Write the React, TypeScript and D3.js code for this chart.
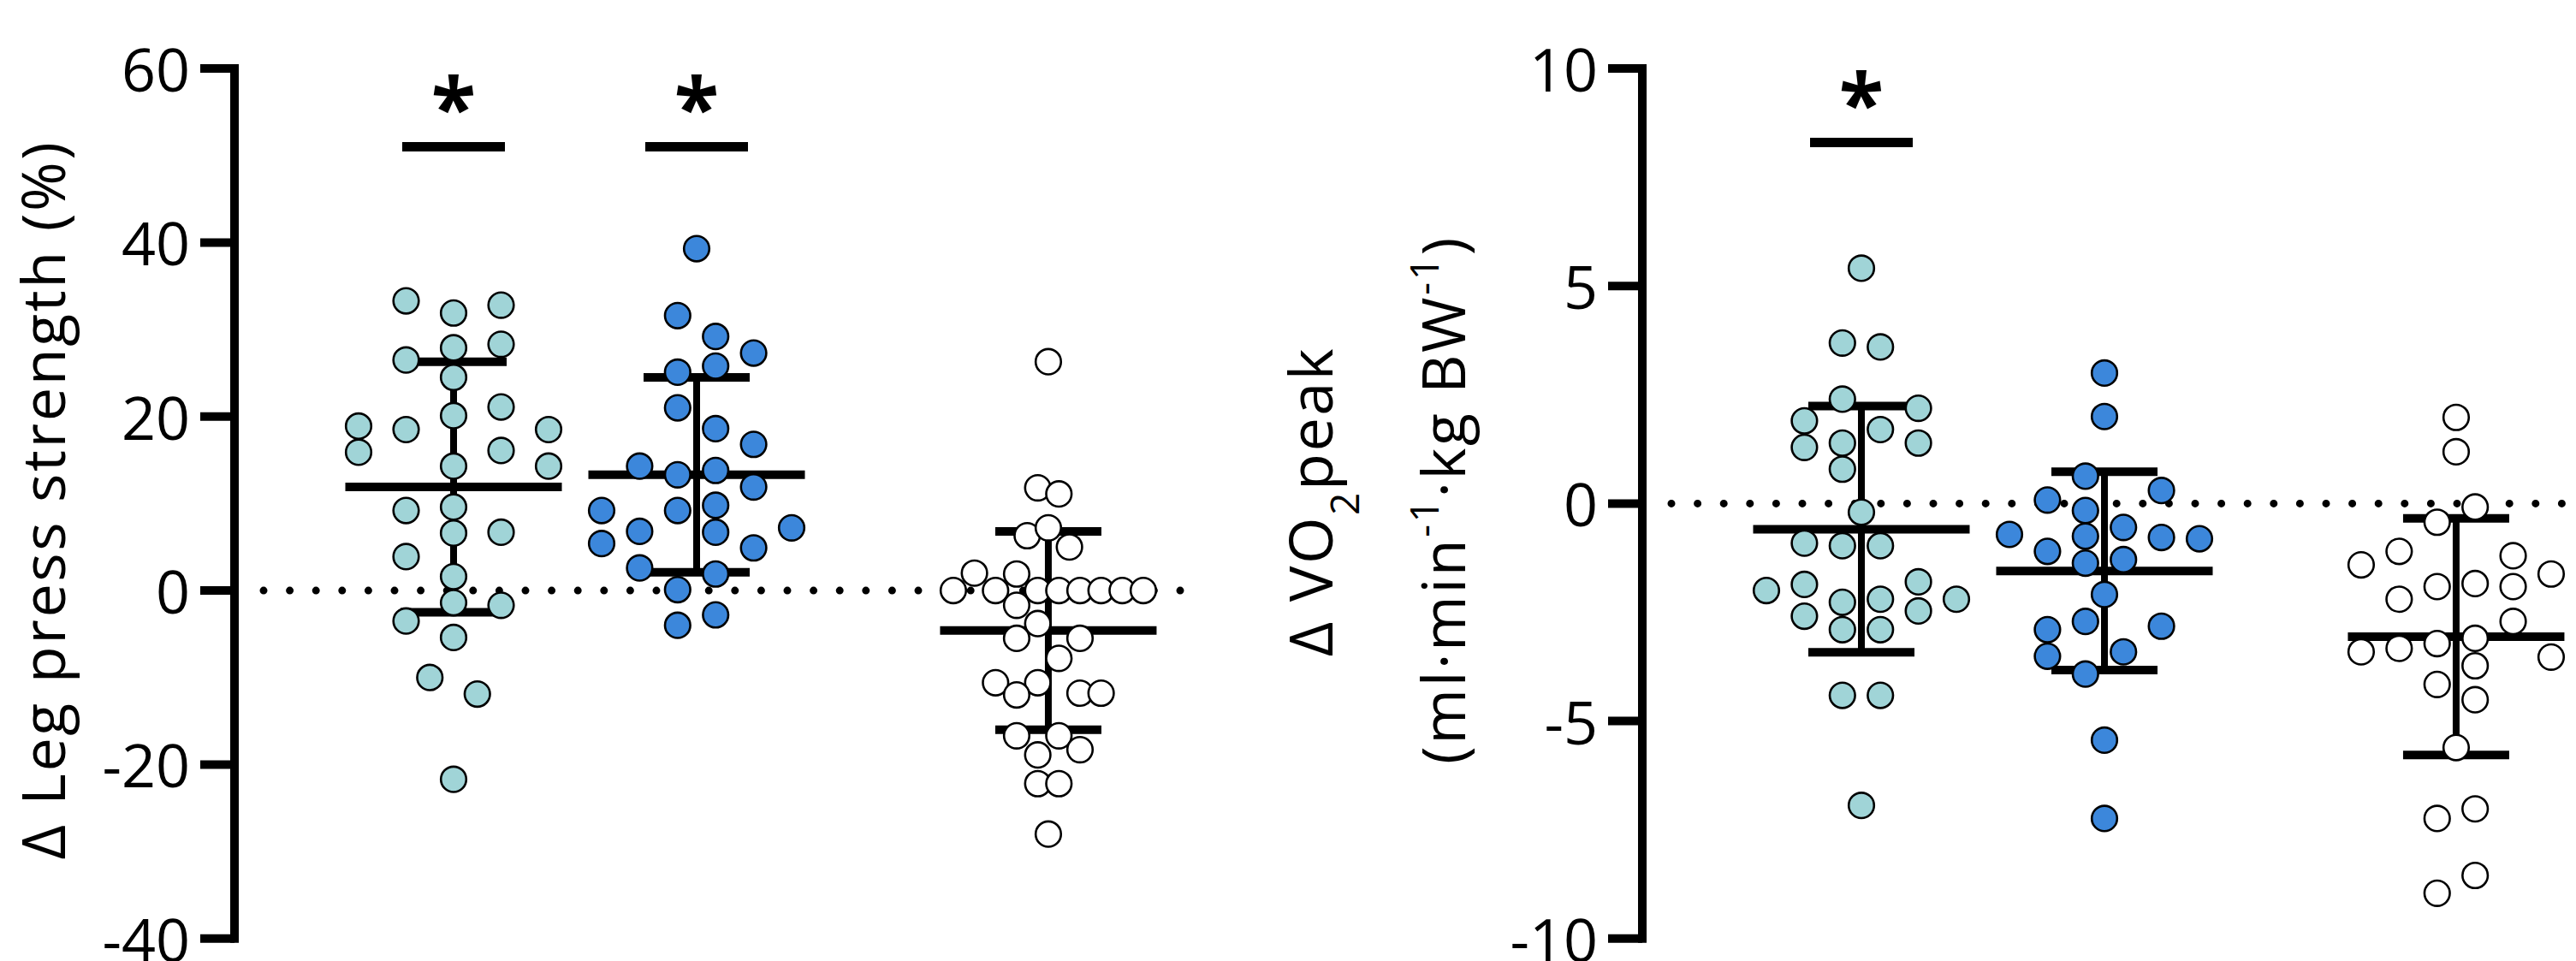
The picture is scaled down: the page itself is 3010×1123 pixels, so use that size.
import React from 'react';
import * as d3 from 'd3';

// ---------- DATA ----------
const categories = ['Group 1', 'Group 2', 'Group 3'];

// Left panel: Δ Leg press strength (%)
const legTicks = [60, 40, 20, 0, -20, -40];
const legG1 = [33.3, 31.9, 32.8, 27.9, 28.3, 26.5, 24.5, 21.1, 20.1, 18.9, 18.5, 18.5, 15.9, 16.1, 14.3, 14.3, 9.2, 9.6, 6.6, 6.7, 3.9, 1.6, -1.4, -1.7, -3.5, -5.4, -10.0, -11.9, -21.7];
const legG1Lane = [-1, 0, 1, 0, 1, -1, 0, 1, 0, -2, -1, 2, -2, 1, 2, 0, -1, 0, 0, 1, -1, 0, 0, 1, -1, 0, -0.5, 0.5, 0];
const legG2 = [39.3, 31.6, 29.2, 27.3, 25.8, 25.1, 21.0, 18.6, 16.8, 14.3, 13.3, 13.8, 11.9, 9.2, 9.2, 9.8, 6.8, 6.7, 7.2, 5.4, 4.9, 2.6, 1.9, 0.1, -2.8, -4.0];
const legG2Lane = [0, -1, 1, 3, 1, -1, -1, 1, 3, -3, -1, 1, 3, -5, -1, 1, -3, 1, 5, -5, 3, -3, 1, -1, 1, -1];
const legG3 = [26.3, 11.8, 11.1, 6.3, 7.2, 5.0, 2.0, 1.9, 0, 0, 0, 0, 0, 0, 0, 0, -1.7, -3.8, -5.5, -5.5, -7.8, -10.6, -10.6, -12.0, -11.8, -11.8, -16.7, -16.7, -18.3, -18.9, -22.2, -22.2, -28.0];
const legG3Lane = [0, -1, 1, -2, 0, 2, -7, -3, -9, -5, -1, 1, 3, 5, 7, 9, -3, -1, -3, 3, 1, -5, -1, -3, 3, 5, -3, 1, 3, -1, -1, 1, 0];
const legMeans = [11.9, 13.3, -4.6];
const legSDs = [14.4, 11.2, 11.4];
const legSig = [0, 1];
const legSigLevel = 51.0;

// Right panel: Δ VO2peak (ml·min-1·kg BW-1)
const vo2Ticks = [10, 5, 0, -5, -10];
const vo2G1 = [5.41, 3.69, 3.60, 2.40, 2.19, 1.90, 1.70, 1.39, 1.29, 1.39, 0.79, -0.20, -0.91, -0.97, -0.97, -2.0, -1.86, -1.80, -2.27, -2.20, -2.20, -2.59, -2.47, -2.90, -2.90, -4.41, -4.41, -6.94];
const vo2G1Lane = [0, -1, 1, -1, 3, -3, 1, -1, -3, 3, -1, 0, -3, -1, 1, -5, -3, 3, -1, 1, 5, -3, 3, -1, 1, -1, 1, 0];
const vo2G2 = [3.00, 2.00, 0.63, 0.30, 0.08, -0.16, -0.71, -0.55, -0.75, -0.78, -0.81, -1.10, -1.37, -1.29, -2.09, -2.71, -2.90, -2.82, -3.41, -3.51, -3.92, -5.44, -7.24];
const vo2G2Lane = [0, 0, -1, 3, -3, -1, -5, 1, -1, 3, 5, -3, -1, 1, 0, -1, -3, 3, 1, -3, -1, 0, 0];
const vo2G3 = [1.98, 1.19, -0.08, -0.43, -1.10, -1.41, -1.20, -1.62, -1.91, -1.84, -1.91, -2.20, -2.71, -3.41, -3.33, -3.22, -3.10, -3.53, -3.73, -4.16, -4.51, -5.61, -7.02, -7.24, -8.55, -8.96];
const vo2G3Lane = [0, 0, 1, -1, -3, -5, 3, 5, -1, 1, 3, -3, 3, -5, -3, -1, 1, 5, 1, -1, 1, 0, 1, -1, 1, -1];
const vo2Means = [-0.59, -1.55, -3.06];
const vo2SDs = [2.83, 2.28, 2.72];
const vo2Sig = [0];
const vo2SigLevel = 8.3;

// ---------- STYLE / LAYOUT ----------
const W = 3010;
const H = 1123;
const FONT = "'Open Sans', sans-serif";
const fills = ['#A0D4D7', '#3C87DB', '#FFFFFF'];
const laneMax = [2, 5, 9];
const laneMaxR = [5, 5, 5];

type PanelProps = {
  axisX: number;
  yDomain: [number, number];
  ticks: number[];
  groups: number[][];
  lanes: number[][];
  lmax: number[];
  means: number[];
  sds: number[];
  sig: number[];
  sigLevel: number;
  dotEnd: number;
};

function Panel(p: PanelProps) {
  const y = d3.scaleLinear().domain(p.yDomain).range([1096.7, 80.1]);
  // category positions (GraphPad-like spacing with wider gap before the third group)
  const xs = d3.scaleLinear().domain([0, 1]).range([p.axisX + 256, p.axisX + 540]);
  const catPos = [0, 1, 2.447];
  const gx = (i: number) => xs(catPos[i]);
  const tickLen = 40;
  const meanHalf = 126.5;
  const capHalf = 62;
  const r = 14.8;

  return (
    <g>
      {/* zero dotted line */}
      <line x1={p.axisX + 34} x2={p.dotEnd} y1={y(0)} y2={y(0)} stroke="#000" strokeWidth={9}
        strokeDasharray="0 30.6" strokeLinecap="round" />
      {/* axis */}
      <line x1={p.axisX} x2={p.axisX} y1={y(p.yDomain[1])} y2={y(p.yDomain[0])} stroke="#000"
        strokeWidth={10} strokeLinecap="square" />
      {p.ticks.map((t) => (
        <g key={t}>
          <line x1={p.axisX - tickLen} x2={p.axisX} y1={y(t)} y2={y(t)} stroke="#000" strokeWidth={10} />
          <text x={p.axisX - 52} y={y(t)} textAnchor="end" dominantBaseline="central"
            fontFamily={FONT} fontSize={70} fill="#000">{String(t)}</text>
        </g>
      ))}
      {/* error bars (mean ± SD) */}
      {categories.map((c, i) => {
        const cx = gx(i);
        const m = p.means[i];
        const s = p.sds[i];
        return (
          <g key={c}>
            <line x1={cx} x2={cx} y1={y(m + s)} y2={y(m - s)} stroke="#000" strokeWidth={8} />
            <line x1={cx - capHalf} x2={cx + capHalf} y1={y(m + s)} y2={y(m + s)} stroke="#000" strokeWidth={10} />
            <line x1={cx - capHalf} x2={cx + capHalf} y1={y(m - s)} y2={y(m - s)} stroke="#000" strokeWidth={10} />
            <line x1={cx - meanHalf} x2={cx + meanHalf} y1={y(m)} y2={y(m)} stroke="#000" strokeWidth={10} />
          </g>
        );
      })}
      {/* points */}
      {p.groups.map((vals, gi) => {
        const lx = d3.scaleLinear().domain([-p.lmax[gi], p.lmax[gi]]).range([gx(gi) - 111, gx(gi) + 111]);
        return (
          <g key={gi}>
            {vals.map((v, k) => (
              <circle key={k} cx={lx(p.lanes[gi][k])} cy={y(v)} r={r} fill={fills[gi]}
                stroke="#000" strokeWidth={2.6} />
            ))}
          </g>
        );
      })}
      {/* significance */}
      {p.sig.map((gi) => (
        <g key={gi}>
          <line x1={gx(gi) - 60} x2={gx(gi) + 60} y1={y(p.sigLevel)} y2={y(p.sigLevel)} stroke="#000" strokeWidth={11} />
          <text x={gx(gi)} y={y(p.sigLevel) - 66 + 55} textAnchor="middle" fontFamily={FONT}
            fontWeight={700} fontSize={96} fill="#000">*</text>
        </g>
      ))}
    </g>
  );
}

export default function App() {
  return (
    <svg width={W} height={H} viewBox={`0 0 ${W} ${H}`}
      style={{ position: 'absolute', left: 0, top: 0, background: '#fff' }}>
      <rect x={0} y={0} width={W} height={H} fill="#fff" />
      <Panel axisX={274} yDomain={[-40, 60]} ticks={legTicks}
        groups={[legG1, legG2, legG3]} lanes={[legG1Lane, legG2Lane, legG3Lane]} lmax={laneMax}
        means={legMeans} sds={legSDs} sig={legSig} sigLevel={legSigLevel} dotEnd={1380} />
      <Panel axisX={1919} yDomain={[-10, 10]} ticks={vo2Ticks}
        groups={[vo2G1, vo2G2, vo2G3]} lanes={[vo2G1Lane, vo2G2Lane, vo2G3Lane]} lmax={laneMaxR}
        means={vo2Means} sds={vo2SDs} sig={vo2Sig} sigLevel={vo2SigLevel} dotEnd={3010} />
      {/* y labels */}
      <text transform="translate(76,584) rotate(-90)" textAnchor="middle" fontFamily={FONT}
        fontSize={70} letterSpacing={2.6} fill="#000">Δ Leg press strength (%)</text>
      <text transform="translate(1557,586) rotate(-90)" textAnchor="middle" fontFamily={FONT}
        fontSize={70} letterSpacing={2.6} fill="#000">
        Δ VO<tspan fontSize={46} baselineShift="sub">2</tspan>peak
      </text>
      <text transform="translate(1712,584) rotate(-90)" textAnchor="middle" fontFamily={FONT}
        fontSize={70} letterSpacing={2.6} fill="#000">
        (ml·min<tspan fontSize={46} baselineShift="super">-1</tspan>·kg BW<tspan fontSize={46} baselineShift="super">-1</tspan>)
      </text>
    </svg>
  );
}
